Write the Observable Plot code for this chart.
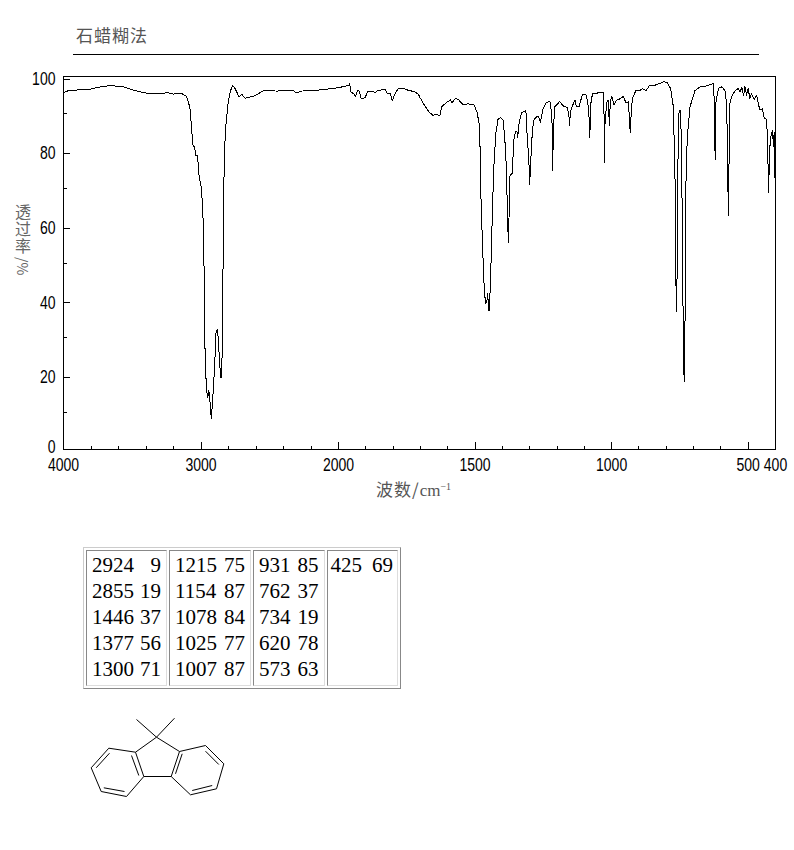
<!DOCTYPE html>
<html lang="zh">
<head>
<meta charset="utf-8">
<script src="https://cdn.jsdelivr.net/npm/d3@7"></script>
<script src="https://cdn.jsdelivr.net/npm/@observablehq/plot@0.6"></script>
<style>
html,body{margin:0;padding:0;background:#fff;}
body{position:relative;width:794px;height:850px;overflow:hidden;}
.abs{position:absolute;}
svg{display:block;background:transparent;}
#title{left:76px;top:24px;font:17px/22px "Noto Sans CJK SC";letter-spacing:1px;color:#555;}
#rule{left:73px;top:54px;width:686px;height:1px;background:#000;}
#ylab{left:15px;top:203px;width:16px;font:16px/17px "Noto Sans CJK SC";color:#666;text-align:center;}
#ylab .stack{word-break:break-all;height:51px;}
#ylab .side{height:22px;line-height:22px;width:16px;white-space:nowrap;transform:rotate(90deg);font-size:14px;}
#xlab{left:376px;top:478px;font:17px/22px "Noto Sans CJK SC";letter-spacing:1px;color:#555;white-space:nowrap;}
#xlab span{font-family:"Liberation Serif";letter-spacing:0;}
#xlab sup{font:10px/10px "Liberation Serif";vertical-align:6px;}
table{left:83px;top:547px;border-collapse:separate;border-spacing:2px;border:1px solid;border-color:#ccc #888 #888 #ccc;font:21px/26px "Liberation Serif";color:#000;}
td{border:1px solid;border-color:#888 #ddd #ddd #888;padding:1px 5px 3px 5px;vertical-align:top;height:130px;box-sizing:content-box;}
td div{display:flex;justify-content:space-between;gap:6px;height:26px;}
td:nth-child(2) div{gap:7px;}
td:nth-child(3) div{gap:7px;}
td:nth-child(4){padding-left:3px;padding-right:4px;}
td:nth-child(4) div{gap:10px;}
</style>
</head>
<body>
<div id="title" class="abs">石蜡糊法</div>
<div id="rule" class="abs"></div>
<div id="chart" class="abs" style="left:0;top:0"></div>
<div id="ylab" class="abs"><div class="stack">透过率</div><div class="side">/%</div></div>
<div id="xlab" class="abs">波数/<span>cm<sup>−1</sup></span></div>
<div id="tbl"></div>
<div id="mol" class="abs" style="left:80px;top:710px"></div>
<script>
const wavenumbers = [4000,3964,3891,3806,3733,3673,3576,3491,3406,3297,3249,3200,3139,3108,3091,3079,3069,3059,3047,3038,3026,3013,2999,2989,2982,2977,2972,2963,2955,2950,2946,2938,2931,2924,2916,2909,2897,2890,2880,2873,2866,2856,2851,2846,2841,2836,2829,2820,2805,2788,2771,2756,2740,2725,2703,2679,2618,2582,2546,2449,2352,2327,2308,2267,2158,2037,
2000,1976,1961,1959,1955,1945,1937,1930,1924,1918,1911,1902,1894,1878,1866,1854,1829,1820,1811,1803,1793,1781,1768,1744,1720,1707,
1703,1685,1669,1654,1642,1629,1622,1605,1590,1584,1572,1562,1544,1526,1504,1493,1485,1480,1478,1474,1468,1462,1457,1454,1449,1444,1438,1432,1424,1416,1406,1397,1390,1385,1381,1378,1375,1372,1364,1358,1352,1347,1344,1339,1330,1314,1309,1303,1300,1296,1290,1284,1275,1268,1261,1251,1238,1226,1221,1217,1216,1213,1208,1190,1177,1163,1157,1154,1151,1138,1134,1129,1119,1108,1100,1092,1088,1084,1080,1076,1070,1049,1031,1027,1026,1024,1017,1013,1010,1008,1005,999,992,982,967,957,948,939,934,932,929,924,911,899,887,874,862,847,829,808,796,784,774,768,764,763,761,757,753,748,745,741,737,734,731,729,723,713,695,676,652,627,624,621,619,609,597,585,579,575,573,570,567,561,549,536,530,523,517,512,506,500,494,488,478,469,462,456,448,441,435,430,427,425,422,416,411,407,405,403,400];
const transmittance = [95.7,96.2,96.4,96.6,97.2,97.5,97.4,96.3,95.6,95.3,95.7,95.3,95.4,94.7,93.2,91,86.5,81.6,81.1,78.9,78.9,73,70.4,65.9,58.8,46.7,28.4,18.5,14.5,13.8,15.8,14.9,10.5,8.2,13.1,16.7,25.7,31.9,32.1,29.2,23.9,19.2,19.4,26.1,43.1,66.4,80.2,86.5,92.3,95.9,97.5,97,95.9,94.5,95.2,94.2,94.7,95.4,96.2,96.1,96.2,96.3,95.6,96.1,96.3,96.8,
97,97.4,97.6,98.1,95.9,95.4,94.7,96.3,96.1,94.3,94,94.4,95.9,96.1,95.7,96.3,96.5,95.3,95.4,93.6,95.4,96.8,96.9,96.3,95.9,95.2,
94.5,92.3,90.5,89.6,89.9,89.5,91.9,93,93.7,93,94.1,93.9,92.4,92.7,92.4,90.5,87.4,77.5,65.9,57.9,45.3,39.1,39.5,41.8,37.1,43.6,59.7,74.9,84.7,88.5,89,88.3,82,74.9,61.4,55.6,64.1,73.5,74,82.9,85.3,85.4,83.6,87.4,90.2,90.9,83.8,77.5,71,77.5,85.6,88.5,89.2,89.4,87.7,91.4,93.1,93.3,91,86.1,74.9,86.1,91.9,93.3,92.1,91.7,90.1,86.8,90.5,93.2,93.6,91.9,91.9,95,95.2,95,92.8,91.4,83.6,92.8,95.4,95.6,95.8,88.3,76.9,88.3,93.2,93.6,90,86.8,93.2,94.7,92.4,93.6,94.1,94.7,93,93.2,88.3,85,89.2,94.1,96.3,96.2,96.7,96.2,97.5,97.5,98,98.6,98.3,96.8,91.9,73.1,41.8,36.9,41.8,77.5,91,91,83.8,59.7,23.9,18.3,36.4,68.6,83.8,91.9,96.2,97.2,97.5,98.1,92.8,77.7,92.8,96.8,97.2,96.3,92.8,77.5,62.6,77.5,92.8,94.5,96.1,96.8,95.9,97,94.8,97.4,95,96.8,94.1,95.4,93.8,95,92.3,91,91.4,88.7,88.7,85.2,74.9,69,80.2,84.3,85.4,81.1,85,73,72.6];
const xMajorTicks = [4000,3000,2000,1500,1000,500,400];
const xMinorTicks = [3800,3600,3400,3200,2800,2600,2400,2200,1900,1800,1700,1600,1400,1300,1200,1100,900,800,700,600];
const yMajorTicks = [20,40,60,80,100];
const yOriginTick = [0];
const yMinorTicks = [10,30,50,70,90];

const peakWavenumbers = [2924,2855,1446,1377,1300,1215,1154,1078,1025,1007,931,762,734,620,573,425];
const peakTransmittance = [9,19,37,56,71,75,87,84,77,87,85,37,19,78,63,69];
const rowsPerColumn = 5;

const ringBonds = [
  [56,9,76,26.7],[94,7.7,76,26.7],[76,26.7,55,41.7],[76,26.7,99,41],
  [55,41.7,28.3,37.7],[28.3,37.7,10.7,57.3],[10.7,57.3,20.7,81],[20.7,81,46,86],[46,86,63.3,66],[63.3,66,55,41.7],
  [63.3,66,90.7,66],
  [99,41,125,35],[125,35,143.3,53.3],[143.3,53.3,136,78.3],[136,78.3,110,84.3],[110,84.3,90.7,66],[90.7,66,99,41],
  [29,42.7,15.7,57.3],[23.3,77.3,44,81],[51,45,58.3,65],[101.7,43.3,95,63.3],[125,40.7,138.3,54],[111.7,80,131.7,75]
];

const spectrum = wavenumbers.map((w,i)=>({w,t:transmittance[i]}));
const axisFont = {fontFamily:"'Liberation Sans'",fontSize:18,fill:"#000"};
const tickStyle = {label:null,stroke:"#000",strokeWidth:1,shapeRendering:"crispEdges"};

const chart = Plot.plot({
  width:794,height:500,
  marginLeft:63,marginRight:19,marginTop:76,marginBottom:51,
  style:{background:"transparent",overflow:"visible"},
  x:{type:"linear",domain:[4000,2000,400],range:[63,338,775],axis:null},
  y:{type:"linear",domain:[0,100],range:[449,76],axis:null},
  marks:[
    Plot.axisX(xMinorTicks,{anchor:"bottom",tickSize:-3.5,tickFormat:()=>"",...tickStyle}),
    Plot.axisX(xMajorTicks,{anchor:"bottom",tickSize:-7,tickPadding:16,tickFormat:d=>String(d),...tickStyle,...axisFont}),
    Plot.axisY(yMinorTicks,{anchor:"left",tickSize:-3.5,tickFormat:()=>"",...tickStyle}),
    Plot.axisY(yMajorTicks,{anchor:"left",tickSize:-7,tickPadding:15,dy:2.5,tickFormat:d=>String(d),...tickStyle,...axisFont}),
    Plot.axisY(yOriginTick,{anchor:"left",tickSize:0,tickPadding:8,dy:-2,tickFormat:d=>String(d),...tickStyle,...axisFont}),
    Plot.line(spectrum,{x:"w",y:"t",stroke:"#000",strokeWidth:1,curve:"linear",shapeRendering:"crispEdges"}),
    Plot.frame({stroke:"#000",strokeWidth:1,shapeRendering:"crispEdges"})
  ]
});
// Narrow the tick digits, keeping each label on its anchor.
chart.querySelectorAll("text").forEach(t=>{
  const tr = t.getAttribute("transform") || "";
  t.setAttribute("transform",(tr+" scale(0.78,1)").trim());
});
document.getElementById("chart").appendChild(chart);

const tableEl = document.createElement("table");
tableEl.className = "abs";
const tr = tableEl.insertRow();
for (let c=0;c<Math.ceil(peakWavenumbers.length/rowsPerColumn);c++){
  const td = tr.insertCell();
  for (let i=c*rowsPerColumn;i<Math.min((c+1)*rowsPerColumn,peakWavenumbers.length);i++){
    const row = document.createElement("div");
    const a = document.createElement("span"); a.textContent = peakWavenumbers[i];
    const b = document.createElement("span"); b.textContent = peakTransmittance[i];
    row.append(a,b); td.appendChild(row);
  }
}
document.getElementById("tbl").appendChild(tableEl);

const mol = Plot.plot({
  width:150,height:95,margin:0,
  style:{background:"transparent"},
  x:{domain:[0,150],range:[0,150],axis:null},
  y:{domain:[0,95],range:[0,95],axis:null},
  marks:[
    Plot.link(ringBonds,{x1:d=>d[0],y1:d=>d[1],x2:d=>d[2],y2:d=>d[3],stroke:"#000",strokeWidth:1})
  ]
});
document.getElementById("mol").appendChild(mol);
</script>
</body>
</html>
